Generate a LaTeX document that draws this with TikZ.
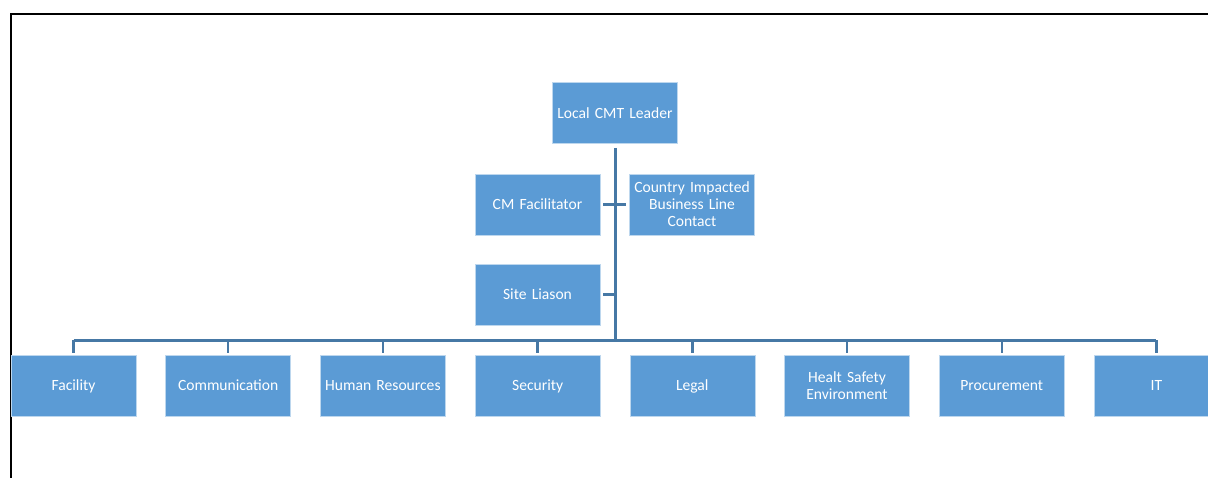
\documentclass[tikz,border=0pt]{standalone}
\usepackage{fontspec}
\setmainfont{Carlito}
\usetikzlibrary{positioning}

\definecolor{boxblue}{RGB}{91,155,213}
\definecolor{linkblue}{RGB}{70,120,165}

\begin{document}
\begin{tikzpicture}[x=1pt, y=-1pt,
        unit/.style={rectangle, fill=boxblue, draw=white!60!boxblue, line width=0.6pt,
            text=white, minimum width=125pt, minimum height=61pt, inner sep=1pt,
            text width=122pt, align=center, font=\fontsize{15.6}{17}\selectfont},
        solo/.style={unit, text depth=0pt},
        link/.style={linkblue, line width=3pt},
        drop/.style={linkblue, line width=2.4pt}]
        \useasboundingbox (0,0) rectangle (1208,477);
        \clip (0,0) rectangle (1208,477);

        % page frame
        \draw[line width=2pt] (10.5,500) |- (1240,13.5);

        % top of the tree
        \node[solo] (lead) at (615,113) {Local CMT Leader};
        \node[solo] (cmf)  at (537.5,204.5) {CM Facilitator};
        \node[unit] (cibl) at (692,204.5) {Country Impacted\\Business Line\\Contact};
        \node[solo] (site) at (537.5,294.5) {Site Liason};

        % departments
        \foreach \name/\txt/\kind [count=\i from 0] in {fac/Facility/solo,
                com/Communication/solo, hr/Human Resources/solo, sec/Security/solo,
                leg/Legal/solo, hse/{Healt Safety\\Environment}/unit,
                proc/Procurement/solo, it/IT/solo}
            \node[\kind] (\name) at (73.5+154.7*\i, 385.5) {\txt};

        \coordinate (hub) at (615,340);

        \draw[link] ([yshift=-4pt]lead.south) -- (hub);
        \draw[link] ([xshift=3pt]cmf.east) -- ([xshift=-3pt]cibl.west);
        \draw[link] ([xshift=3pt]site.east) -- (site.east -| hub);
        \draw[link] (fac.north |- hub) -- (it.north |- hub);
        \foreach \name in {fac,com,hr,sec,leg,hse,proc,it}
            \draw[drop] (\name.north |- hub) -- ([yshift=2pt]\name.north);
    \end{tikzpicture}
\end{document}
